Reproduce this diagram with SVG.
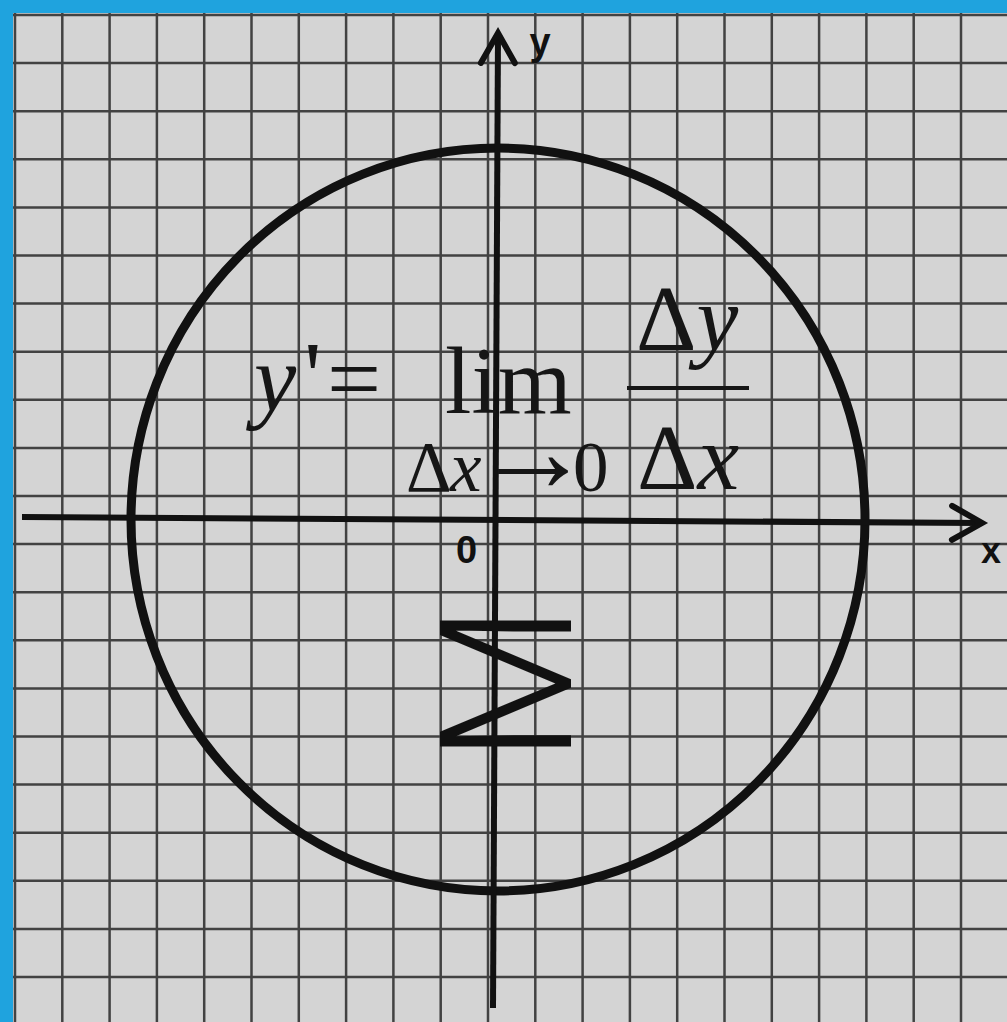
<svg xmlns="http://www.w3.org/2000/svg" width="1007" height="1022" viewBox="0 0 1007 1022">
  <style>
    .grid { stroke: #424242; stroke-width: 2.5; fill: none; }
    .axis { stroke: #111; stroke-width: 6; fill: none; }
    .serif { font-family: "Liberation Serif", "Times New Roman", serif; fill: #161616; }
    .it { font-style: italic; }
    .sans { font-family: "Liberation Sans", Arial, sans-serif; font-weight: bold; fill: #111; }
  </style>
  <defs>
    <marker id="chev" markerUnits="userSpaceOnUse" markerWidth="60" markerHeight="60" viewBox="-40 -30 50 60" refX="0" refY="0" orient="auto">
      <path d="M -30 -17 L 0 0 L -30 17" stroke="#111" stroke-width="6" fill="none" stroke-linecap="round" stroke-linejoin="miter"/>
    </marker>
  </defs>

  <rect x="0" y="0" width="1007" height="1022" fill="#1fa3de"/>
  <rect x="13" y="13" width="994" height="1009" fill="#d4d4d4"/>

  <g id="grid" class="grid">
    <path d="M15 13V1022M62.3 13V1022M109.6 13V1022M156.9 13V1022M204.2 13V1022M251.5 13V1022M298.8 13V1022M346.1 13V1022M393.4 13V1022M440.7 13V1022M488 13V1022M535.3 13V1022M582.6 13V1022M629.9 13V1022M677.2 13V1022M724.5 13V1022M771.8 13V1022M819.1 13V1022M866.4 13V1022M913.7 13V1022M961 13V1022"/>
    <path d="M13 15H1007M13 63.1H1007M13 111.2H1007M13 159.3H1007M13 207.4H1007M13 255.5H1007M13 303.6H1007M13 351.7H1007M13 399.8H1007M13 447.9H1007M13 496H1007M13 544.1H1007M13 592.2H1007M13 640.3H1007M13 688.4H1007M13 736.5H1007M13 784.6H1007M13 832.7H1007M13 880.8H1007M13 928.9H1007M13 977H1007"/>
  </g>

  <g id="circle">
    <ellipse cx="498" cy="519.5" rx="367" ry="371.5" fill="none" stroke="#111" stroke-width="9"/>
  </g>

  <g id="connectors">
    <line id="x-axis" class="axis" x1="22" y1="517" x2="982" y2="523" marker-end="url(#chev)"/>
    <line id="y-axis" class="axis" x1="493" y1="1008" x2="498" y2="33" marker-end="url(#chev)"/>
  </g>

  <g id="axis-labels">
    <text class="sans" x="540" y="55" font-size="38" text-anchor="middle">y</text>
    <text class="sans" x="991" y="563" font-size="36" text-anchor="middle">x</text>
    <text class="sans" x="466.5" y="563" font-size="38" text-anchor="middle">0</text>
  </g>

  <g id="formula" class="serif">
    <text x="254" y="411" font-size="95" class="it">y</text>
    <text x="304" y="409" font-size="98">'</text>
    <text x="327" y="411" font-size="96">=</text>
    <text x="445" y="413" font-size="95">lim</text>
    <text x="636" y="350" font-size="94">Δ<tspan class="it">y</tspan></text>
    <line x1="627" y1="388" x2="749" y2="388" stroke="#161616" stroke-width="4"/>
    <text x="637" y="489" font-size="94">Δ<tspan class="it">x</tspan></text>
    <text y="491" font-size="71"><tspan x="406">Δ</tspan><tspan x="450" class="it">x</tspan><tspan x="474" font-size="118">→</tspan><tspan x="573">0</tspan></text>
  </g>

  <g id="symbol">
    <text transform="translate(571,683.4) rotate(-90)" font-family="Roboto, 'Liberation Sans', sans-serif" font-weight="340" font-size="184" text-anchor="middle" fill="#111">M</text>
  </g>
</svg>
